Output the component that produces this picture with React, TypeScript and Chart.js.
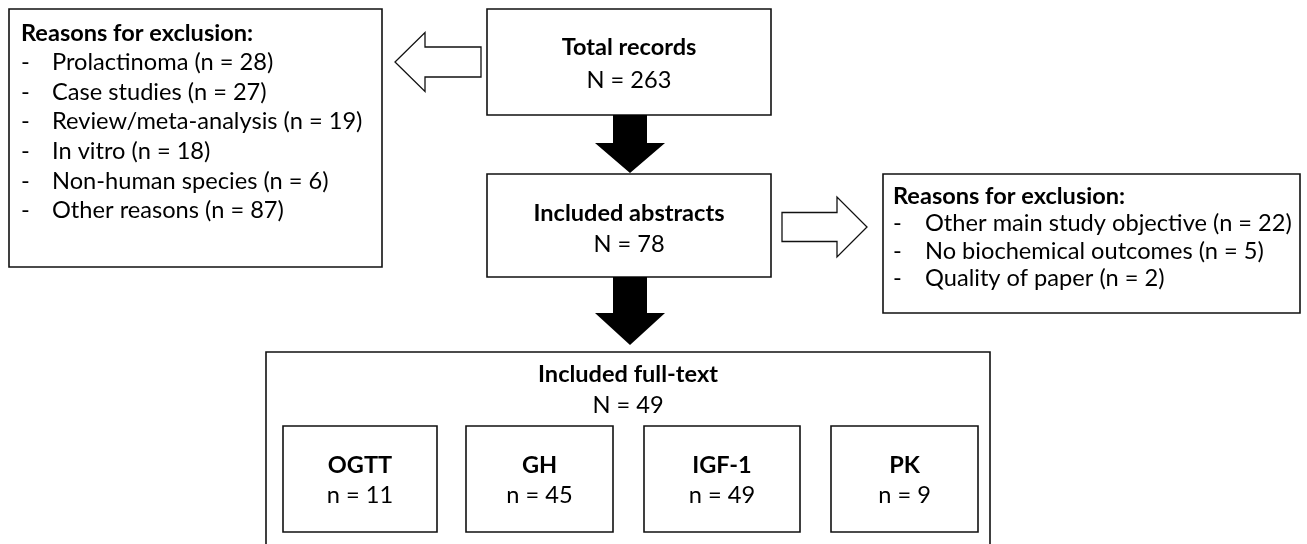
import React, { useEffect, useRef } from "react";
import { Chart, registerables } from "chart.js";

Chart.register(...registerables);

// ---- data ----
const stageLabels = ["Total records", "Included abstracts", "Included full-text"];
const stageCounts = [263, 78, 49];
const leftReasons = ["Prolactinoma", "Case studies", "Review/meta-analysis", "In vitro", "Non-human species", "Other reasons"];
const leftCounts = [28, 27, 19, 18, 6, 87];
const rightReasons = ["Other main study objective", "No biochemical outcomes", "Quality of paper"];
const rightCounts = [22, 5, 2];
const outcomeLabels = ["OGTT", "GH", "IGF-1", "PK"];
const outcomeCounts = [11, 45, 49, 9];
const exclusionTitle = "Reasons for exclusion:";

// ---- layout (diagram units = pixels of the 1307x544 frame) ----
const W = 1307;
const H = 544;
const LAYOUT = {
  leftBox: { x0: 9, x1: 382, y0: 9, y1: 267, titleY: 33, lineGap: 29.6, dashDx: 12, textDx: 43 },
  rightBox: { x0: 883, x1: 1300, y0: 174, y1: 313, titleY: 196, lineGap: 27.6, dashDx: 10, textDx: 42 },
  stages: [
    { x0: 487, x1: 771, y0: 9, y1: 115, t1: 47, t2: 80 },
    { x0: 487, x1: 771, y0: 174, y1: 277, t1: 213, t2: 244 },
    { x0: 266, x1: 990, y0: 352, y1: 600, t1: 374, t2: 405 },
  ],
  subs: [
    { x0: 283, x1: 437 },
    { x0: 466, x1: 613 },
    { x0: 644, x1: 800 },
    { x0: 831, x1: 978 },
  ],
  subY: { y0: 426, y1: 532, t1: 465, t2: 495 },
  blackArrows: [
    { cx: 630, s0: 115, hb: 143, tip: 173, sw: 17, hw: 35 },
    { cx: 630, s0: 277, hb: 313, tip: 345, sw: 17, hw: 35 },
  ],
  leftArrow: { tip: 395, hb: 425, tail: 481, cy: 62, sw: 15, hw: 29.5 },
  rightArrow: { tip: 867, hb: 837, tail: 782, cy: 227, sw: 14.5, hw: 30 },
};

const FONT = "Lato, 'Open Sans', 'Noto Sans', sans-serif";

export default function App() {
  const ref = useRef<HTMLCanvasElement | null>(null);

  useEffect(() => {
    const canvas = ref.current;
    if (!canvas) return;

    const drawPlugin = {
      id: "flowDiagram",
      afterDraw(chart: any) {
        const ctx: CanvasRenderingContext2D = chart.ctx;
        const xs = chart.scales.x;
        const ys = chart.scales.y;
        const px = (v: number) => xs.getPixelForValue(v);
        const py = (v: number) => ys.getPixelForValue(v);

        // fit font sizes
        const fit = (weight: string, samples: string[], targets: number[]) => {
          ctx.font = `${weight} 100px ${FONT}`;
          let a = 0, b = 0;
          samples.forEach((s, i) => { a += ctx.measureText(s).width; b += targets[i]; });
          return (100 * b) / a;
        };
        const regSize = fit("normal", ["Review/meta-analysis (n = 19)", "Other main study objective (n = 22)", "Prolactinoma (n = 28)"], [309, 365, 225]);
        const boldSize = fit("bold", ["Included full-text", "Total records", "Reasons for exclusion:"], [180, 135, 232]);
        const REG = `normal ${regSize.toFixed(2)}px ${FONT}`;
        const BOLD = `bold ${boldSize.toFixed(2)}px ${FONT}`;

        ctx.save();
        ctx.fillStyle = "#ffffff";
        ctx.fillRect(0, 0, chart.width, chart.height);

        const rect = (b: { x0: number; x1: number; y0: number; y1: number }) => {
          ctx.beginPath();
          ctx.rect(px(b.x0), py(b.y0), px(b.x1) - px(b.x0), py(b.y1) - py(b.y0));
          ctx.lineWidth = 1.6;
          ctx.strokeStyle = "#111";
          ctx.stroke();
        };
        const text = (s: string, x: number, y: number, font: string, align: CanvasTextAlign) => {
          ctx.font = font;
          ctx.fillStyle = "#000";
          ctx.textAlign = align;
          ctx.textBaseline = "middle";
          ctx.fillText(s, px(x), py(y));
        };

        // exclusion boxes
        const listBox = (b: any, reasons: string[], counts: number[]) => {
          rect(b);
          text(exclusionTitle, b.x0 + b.dashDx, b.titleY, BOLD, "left");
          reasons.forEach((r, i) => {
            const y = b.titleY + b.lineGap * (i + 1);
            text("-", b.x0 + b.dashDx, y, REG, "left");
            text(`${r} (n = ${counts[i]})`, b.x0 + b.textDx, y, REG, "left");
          });
        };
        listBox(LAYOUT.leftBox, leftReasons, leftCounts);
        listBox(LAYOUT.rightBox, rightReasons, rightCounts);

        // stage boxes
        LAYOUT.stages.forEach((b, i) => {
          rect(b);
          const cx = (b.x0 + b.x1) / 2;
          text(stageLabels[i], cx, b.t1, BOLD, "center");
          text(`N = ${stageCounts[i]}`, cx, b.t2, REG, "center");
        });

        // outcome sub-boxes
        const sy = LAYOUT.subY;
        LAYOUT.subs.forEach((b, i) => {
          rect({ x0: b.x0, x1: b.x1, y0: sy.y0, y1: sy.y1 });
          const cx = (b.x0 + b.x1) / 2;
          text(outcomeLabels[i], cx, sy.t1, BOLD, "center");
          text(`n = ${outcomeCounts[i]}`, cx, sy.t2, REG, "center");
        });

        // black down arrows
        LAYOUT.blackArrows.forEach((a) => {
          ctx.beginPath();
          ctx.moveTo(px(a.cx - a.sw), py(a.s0));
          ctx.lineTo(px(a.cx + a.sw), py(a.s0));
          ctx.lineTo(px(a.cx + a.sw), py(a.hb));
          ctx.lineTo(px(a.cx + a.hw), py(a.hb));
          ctx.lineTo(px(a.cx), py(a.tip));
          ctx.lineTo(px(a.cx - a.hw), py(a.hb));
          ctx.lineTo(px(a.cx - a.sw), py(a.hb));
          ctx.closePath();
          ctx.fillStyle = "#000";
          ctx.fill();
        });

        // hollow horizontal arrows
        const hollow = (a: any) => {
          ctx.beginPath();
          ctx.moveTo(px(a.tail), py(a.cy - a.sw));
          ctx.lineTo(px(a.hb), py(a.cy - a.sw));
          ctx.lineTo(px(a.hb), py(a.cy - a.hw));
          ctx.lineTo(px(a.tip), py(a.cy));
          ctx.lineTo(px(a.hb), py(a.cy + a.hw));
          ctx.lineTo(px(a.hb), py(a.cy + a.sw));
          ctx.lineTo(px(a.tail), py(a.cy + a.sw));
          ctx.closePath();
          ctx.fillStyle = "#fff";
          ctx.fill();
          ctx.lineWidth = 1.3;
          ctx.strokeStyle = "#111";
          ctx.stroke();
        };
        hollow(LAYOUT.leftArrow);
        hollow(LAYOUT.rightArrow);

        ctx.restore();
      },
    };

    const chart = new Chart(canvas, {
      type: "scatter",
      data: { datasets: [{ data: [], pointRadius: 0 }] },
      options: {
        animation: false,
        responsive: false,
        devicePixelRatio: 1,
        layout: { padding: 0 },
        plugins: { legend: { display: false }, tooltip: { enabled: false } },
        scales: {
          x: { type: "linear", min: 0, max: W, display: false },
          y: { type: "linear", min: 0, max: H, reverse: true, display: false },
        },
      },
      plugins: [drawPlugin],
    });
    return () => chart.destroy();
  }, []);

  return (
    <div style={{ position: "fixed", left: 0, top: 0, width: W, height: H, background: "#fff" }}>
      <canvas ref={ref} width={W} height={H} style={{ width: W, height: H, display: "block" }} />
    </div>
  );
}
